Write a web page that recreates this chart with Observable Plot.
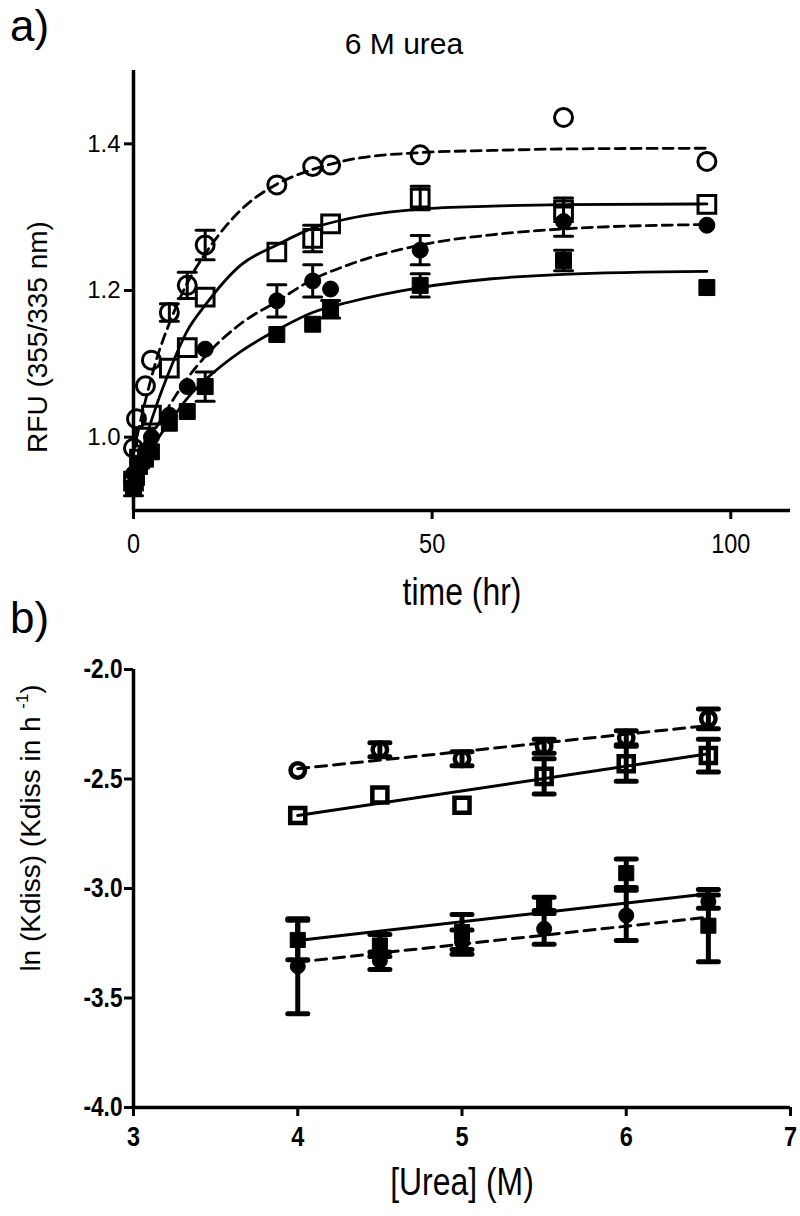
<!DOCTYPE html>
<html>
<head>
<meta charset="utf-8">
<script src="https://cdn.jsdelivr.net/npm/d3@7"></script>
<script src="https://cdn.jsdelivr.net/npm/@observablehq/plot@0.6"></script>
<style>
  body { margin: 0; background: #fff; }
  #wrap { position: relative; width: 800px; height: 1216px; font-family: "Liberation Sans", Arial, sans-serif; color: #000; }
  #wrap svg { display: block; }
  .lbl { position: absolute; white-space: nowrap; line-height: 1; }
  .ctr { transform: translate(-50%, -50%); }
  .rot { transform: translate(-50%, -50%) rotate(-90deg); }
  .narrow { transform: translate(-50%, -50%) scaleX(0.84); }
</style>
</head>
<body>
<div id="wrap"></div>
<script>
// ---------- Panel a data: 6 M urea, RFU vs time ----------
const xDomainA = [0, 110];
const yDomainA = [0.9, 1.5];
const xTicksA = [0, 50, 100];
const yTicksA = [1.0, 1.2, 1.4];

const openCircleT   = [0, 0.5, 2, 3, 6, 9, 12, 24, 30, 33, 48, 72, 96];
const openCircleV   = [0.985, 1.025, 1.07, 1.105, 1.17, 1.207, 1.262, 1.344, 1.369, 1.371, 1.385, 1.436, 1.376];
const openCircleE   = [0, 0, 0, 0, 0.012, 0.018, 0.02, 0, 0, 0, 0, 0, 0];

const openSquareT   = [0, 1, 2, 3, 6, 9, 12, 24, 30, 33, 48, 72, 96];
const openSquareV   = [0.94, 0.97, 1.0, 1.03, 1.094, 1.122, 1.191, 1.2525, 1.271, 1.291, 1.326, 1.31, 1.3175];
const openSquareE   = [0, 0, 0, 0, 0, 0, 0, 0, 0.018, 0, 0.016, 0.016, 0];

const filledCircleT = [0, 1, 2, 3, 6, 9, 12, 24, 30, 33, 48, 72, 96];
const filledCircleV = [0.95, 0.965, 0.98, 1.0, 1.03, 1.069, 1.12, 1.186, 1.213, 1.202, 1.255, 1.294, 1.289];
const filledCircleE = [0, 0, 0, 0, 0, 0, 0, 0.022, 0.022, 0, 0.02, 0.02, 0];

const filledSquareT = [0, 0.5, 1, 2, 3, 6, 9, 12, 24, 30, 33, 48, 72, 96];
const filledSquareV = [0.93, 0.945, 0.96, 0.97, 0.98, 1.019, 1.035, 1.069, 1.140, 1.154, 1.1745, 1.207, 1.241, 1.204];
const filledSquareE = [0.01, 0, 0, 0, 0, 0, 0, 0.02, 0, 0, 0.012, 0.016, 0.014, 0];

// fitted curves
const fitT            = [0, 2, 4, 6, 9, 12, 18, 24, 30, 36, 48, 60, 72, 96];
const fitOpenCircle   = [0.98, 1.05, 1.11, 1.155, 1.21, 1.25, 1.31, 1.345, 1.365, 1.378, 1.388, 1.391, 1.393, 1.394];
const fitOpenSquare   = [0.94, 0.997, 1.047, 1.09, 1.145, 1.18, 1.235, 1.262, 1.285, 1.298, 1.311, 1.315, 1.317, 1.318];
const fitFilledCircle = [0.955, 0.988, 1.016, 1.043, 1.08, 1.11, 1.155, 1.185, 1.215, 1.235, 1.262, 1.276, 1.284, 1.29];
const fitFilledSquare = [0.94, 0.97, 0.997, 1.02, 1.053, 1.078, 1.117, 1.146, 1.17, 1.184, 1.204, 1.216, 1.222, 1.226];

// ---------- Panel b data: ln(Kdiss) vs [Urea] ----------
const xDomainB = [3, 7];
const yDomainB = [-4, -2];
const xTicksB = [3, 4, 5, 6, 7];
const yTicksB = [-4.0, -3.5, -3.0, -2.5, -2.0];

const urea = [4, 4.5, 5, 5.5, 6, 6.5];
const openCircleB   = [-2.461, -2.366, -2.408, -2.350, -2.312, -2.225];
const openCircleBE  = [0, 0.032, 0.032, 0.032, 0.032, 0.045];
const openSquareB   = [-2.667, -2.573, -2.62, -2.488, -2.43, -2.393];
const openSquareBE  = [0, 0, 0, 0.08, 0.08, 0.075];
const filledSquareB = [-3.235, -3.26, -3.199, -3.070, -2.93, -3.17];
const filledSquareBE= [0.09, 0.05, 0.08, 0.03, 0.065, 0.165];
const filledCircleB = [-3.355, -3.33, -3.245, -3.184, -3.123, -3.06];
const filledCircleBE= [0.217, 0.04, 0.055, 0.07, 0.115, 0.03];

const fitUrea = [4, 6.5];
const fitOpenCircleB   = [-2.453, -2.256];
const fitOpenSquareB   = [-2.667, -2.385];
const fitFilledSquareB = [-3.237, -3.024];
const fitFilledCircleB = [-3.336, -3.131];

// ---------- helpers ----------
const hbar = {
  draw(context, size) {
    const w = 2 * Math.sqrt(size / Math.PI);
    context.moveTo(-w / 2, 0);
    context.lineTo(w / 2, 0);
  }
};
const rows = (xs, ys, es) => xs.map((x, i) => ({x, y: ys[i], e: es ? es[i] : 0}));

function seriesMarks(data, symbol, filled, r, sw, capR, capSW) {
  const withErr = data.filter(d => d.e > 0);
  return [
    Plot.ruleX(withErr, {x: "x", y1: d => d.y - d.e, y2: d => d.y + d.e, stroke: "black", strokeWidth: capSW}),
    Plot.dot(withErr, {x: "x", y: d => d.y - d.e, symbol: hbar, r: capR, stroke: "black", fill: "none", strokeWidth: capSW, strokeLinecap: "round"}),
    Plot.dot(withErr, {x: "x", y: d => d.y + d.e, symbol: hbar, r: capR, stroke: "black", fill: "none", strokeWidth: capSW, strokeLinecap: "round"}),
    Plot.dot(data, {x: "x", y: "y", symbol, r, stroke: "black", fill: filled ? "black" : "none", strokeWidth: sw})
  ];
}

const sans = '"Liberation Sans", Arial, sans-serif';

// ---------- Panel a ----------
const plotA = Plot.plot({
  width: 800, height: 600,
  marginLeft: 133, marginRight: 10, marginTop: 70, marginBottom: 90,
  x: {domain: xDomainA},
  y: {domain: yDomainA},
  style: {fontFamily: sans, fontSize: "24px", color: "black", background: "white"},
  marks: [
    ...seriesMarks(rows(openCircleT, openCircleV, openCircleE), "circle", false, 9, 3, 9, 3),
    ...seriesMarks(rows(openSquareT, openSquareV, openSquareE), "square", false, 10, 3, 9, 3),
    ...seriesMarks(rows(filledCircleT, filledCircleV, filledCircleE), "circle", true, 8, 1, 9, 3),
    ...seriesMarks(rows(filledSquareT, filledSquareV, filledSquareE), "square", true, 9, 1, 9, 3),
    Plot.line(rows(fitT, fitOpenCircle), {x: "x", y: "y", curve: "monotone-x", stroke: "black", strokeWidth: 2.8, strokeDasharray: "10,6"}),
    Plot.line(rows(fitT, fitOpenSquare), {x: "x", y: "y", curve: "monotone-x", stroke: "black", strokeWidth: 2.8}),
    Plot.line(rows(fitT, fitFilledCircle), {x: "x", y: "y", curve: "monotone-x", stroke: "black", strokeWidth: 2.8, strokeDasharray: "10,6"}),
    Plot.line(rows(fitT, fitFilledSquare), {x: "x", y: "y", curve: "monotone-x", stroke: "black", strokeWidth: 2.8}),
    Plot.ruleY([yDomainA[0]], {stroke: "black", strokeWidth: 3.5}),
    Plot.ruleX([xDomainA[0]], {stroke: "black", strokeWidth: 3.5}),
    Plot.axisX({ticks: xTicksA, tickSize: 9, tickPadding: 14, strokeWidth: 3, label: null, fontSize: 28, fontFamily: sans}),
    Plot.axisY({ticks: yTicksA, tickSize: 9, tickPadding: 4, strokeWidth: 3, label: null, tickFormat: d => d.toFixed(1), fontSize: 24, fontFamily: sans})
  ]
});

// ---------- Panel b ----------
const plotB = Plot.plot({
  width: 800, height: 616,
  marginLeft: 133, marginRight: 10, marginTop: 69, marginBottom: 109,
  x: {domain: xDomainB},
  y: {domain: yDomainB},
  style: {fontFamily: sans, fontSize: "24px", fontWeight: "bold", color: "black", background: "white"},
  marks: [
    ...seriesMarks(rows(urea, filledCircleB, filledCircleBE), "circle", true, 7.5, 1, 10, 5),
    ...seriesMarks(rows(urea, filledSquareB, filledSquareBE), "square", true, 8.5, 1, 10, 5),
    ...seriesMarks(rows(urea, openSquareB, openSquareBE), "square", false, 8.5, 4.5, 10, 5),
    ...seriesMarks(rows(urea, openCircleB, openCircleBE), "circle", false, 7.2, 4.5, 10, 5),
    Plot.line(rows(fitUrea, fitOpenCircleB), {x: "x", y: "y", stroke: "black", strokeWidth: 3, strokeDasharray: "11,7"}),
    Plot.line(rows(fitUrea, fitOpenSquareB), {x: "x", y: "y", stroke: "black", strokeWidth: 3}),
    Plot.line(rows(fitUrea, fitFilledSquareB), {x: "x", y: "y", stroke: "black", strokeWidth: 3}),
    Plot.line(rows(fitUrea, fitFilledCircleB), {x: "x", y: "y", stroke: "black", strokeWidth: 3, strokeDasharray: "11,7"}),
    Plot.ruleY([yDomainB[0]], {stroke: "black", strokeWidth: 3.5}),
    Plot.ruleX([xDomainB[0]], {stroke: "black", strokeWidth: 3.5}),
    Plot.axisX({ticks: xTicksB, tickSize: 9, tickPadding: 10, strokeWidth: 3, label: null, tickFormat: d => String(d), fontSize: 28, fontWeight: "bold", fontFamily: sans}),
    Plot.axisY({ticks: yTicksB, tickSize: 9, tickPadding: 2, strokeWidth: 3, label: null, tickFormat: d => d.toFixed(1), fontSize: 27, fontWeight: "bold", fontFamily: sans})
  ]
});

// condensed look for tick labels (the reference uses a narrow face)
function narrowTicks(svg, selector, k) {
  d3.select(svg).selectAll(selector).attr("transform", function () {
    const t = this.getAttribute("transform") || "";
    return t + ` scale(${k},1)`;
  });
}
narrowTicks(plotA, 'g[aria-label="x-axis tick label"] text', 0.84);
narrowTicks(plotB, 'g[aria-label="x-axis tick label"] text', 0.84);
narrowTicks(plotB, 'g[aria-label="y-axis tick label"] text', 0.84);

const wrap = document.getElementById("wrap");
wrap.appendChild(plotA);
wrap.appendChild(plotB);

function addLabel(html, cls, left, top, size) {
  const d = document.createElement("div");
  d.className = "lbl " + cls;
  d.style.left = left + "px";
  d.style.top = top + "px";
  d.style.fontSize = size + "px";
  d.innerHTML = html;
  wrap.appendChild(d);
}
addLabel("a)", "", 10, 4, 44);
addLabel("6 M urea", "ctr", 404, 44, 30);
addLabel("RFU (355/335 nm)", "rot", 38, 337, 28);
addLabel("time (hr)", "narrow", 462, 592, 38);
addLabel("b)", "", 10, 596, 44);
addLabel('ln (Kdiss) (Kdiss in h <sup style="font-size:0.6em;vertical-align:0.7em">-1</sup>)', "rot", 30, 828, 28);
addLabel("[Urea] (M)", "narrow", 462, 1182, 38);
</script>
</body>
</html>
